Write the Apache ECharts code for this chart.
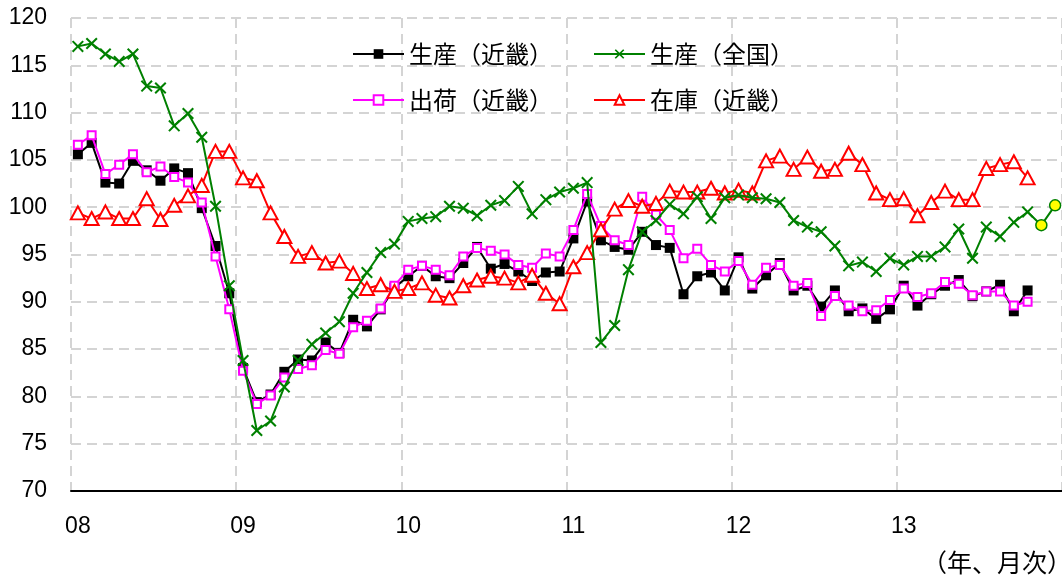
<!DOCTYPE html>
<html lang="ja">
<head>
    <meta charset="UTF-8">
    <title>近畿 鉱工業指数</title>
    <style>
        html,body{
            height: 100%;
        }
        body{
            margin: 0;
            padding: 0;
            background: #fff;
        }
        #chart_main{
            width: 1062px;
            height: 577px;
        }
    </style>
</head>
<body>
    <div id="chart_main"></div>
</body>
</html>
<script src="https://cdn.jsdelivr.net/npm/echarts@6/dist/echarts.min.js"></script>
<script>
    // 年ラベル（2008年1月〜2013年12月）
    var years = ['08', '09', '10', '11', '12', '13'];
    var months = [];
    years.forEach(function (y) {
        for (var m = 1; m <= 12; m++) months.push(y + '/' + m);
    });

    // 生産（近畿）
    var prodKinki = [
        105.6, 106.8, 102.6, 102.5, 104.9, 103.9, 102.8, 104.1, 103.6, 99.9, 95.9, 90.9,
        83.0, 79.4, 80.2, 82.6, 83.9, 83.8, 85.7, 84.6, 88.1, 87.4, 89.2, 91.5,
        92.7, 93.8, 92.7, 92.5, 94.1, 95.8, 93.5, 94.0, 93.2, 92.2, 93.1, 93.2,
        96.7, 100.6, 96.5, 95.8, 95.5, 97.4, 96.0, 95.7, 90.8, 92.7, 93.1, 91.2,
        94.7, 91.4, 92.8, 94.1, 91.2, 91.7, 89.5, 91.2, 89.0, 89.3, 88.2, 89.2,
        91.7, 89.6, 90.8, 91.7, 92.3, 90.6, 91.1, 91.8, 89.0, 91.2
    ];
    // 出荷（近畿）
    var shipKinki = [
        106.6, 107.6, 103.5, 104.5, 105.6, 103.7, 104.3, 103.2, 102.6, 100.5, 94.8, 89.2,
        82.7, 79.2, 80.1, 82.0, 82.9, 83.3, 84.9, 84.5, 87.3, 88.0, 89.3, 91.7,
        93.4, 93.8, 93.4, 92.8, 94.8, 95.7, 95.4, 95.0, 93.9, 93.6, 95.1, 94.8,
        97.6, 101.4, 98.0, 96.5, 96.0, 101.1, 99.2, 97.6, 94.6, 95.6, 93.9, 93.2,
        94.3, 91.8, 93.6, 93.9, 91.7, 92.0, 88.5, 90.6, 89.6, 89.0, 89.1, 90.2,
        91.4, 90.5, 90.9, 92.1, 91.9, 90.7, 91.1, 91.1, 89.6, 90.0
    ];
    // 生産（全国）
    var prodJapan = [
        117.0, 117.3, 116.2, 115.4, 116.2, 112.8, 112.6, 108.6, 109.9, 107.4, 100.1, 91.7,
        83.8, 76.4, 77.4, 81.0, 83.8, 85.5, 86.7, 87.9, 90.9, 93.1, 95.2, 96.1,
        98.5, 98.8, 99.0, 100.1, 99.9, 99.1, 100.2, 100.7, 102.2, 99.3, 100.8, 101.6,
        102.0, 102.6, 85.7, 87.5, 93.4, 97.4, 98.6, 100.3, 99.3, 101.1, 98.8, 101.0,
        101.3, 101.0, 100.9, 100.5, 98.6, 97.9, 97.4, 95.9, 93.8, 94.2, 93.2, 94.6,
        93.9, 94.8, 94.8, 95.8, 97.7, 94.6, 97.9, 96.9, 98.4, 99.5
    ];
    // 在庫（近畿）
    var stockKinki = [
        99.4, 98.8, 99.5, 98.8, 98.8, 100.9, 98.7, 100.2, 101.2, 102.3, 105.9, 105.9,
        103.1, 102.8, 99.4, 96.9, 94.8, 95.2, 94.1, 94.3, 93.0, 91.4, 91.8, 91.1,
        91.4, 92.0, 90.7, 90.4, 91.7, 92.3, 92.7, 92.5, 92.0, 92.8, 90.9, 89.8,
        93.7, 95.2, 97.6, 99.8, 100.7, 100.1, 100.4, 101.7, 101.6, 101.6, 102.0, 101.5,
        101.8, 101.5, 104.9, 105.4, 104.0, 105.3, 103.8, 104.0, 105.7, 104.5, 101.5, 100.8,
        100.9, 99.1, 100.5, 101.7, 100.8, 100.8, 104.1, 104.5, 104.8, 103.1
    ];
    // 生産（全国）予測値 2013年11月・12月
    var forecastJapan = [98.1, 100.2];

    var forecastData = prodJapan.map(function () { return null; });
    forecastData[forecastData.length - 1] = { value: prodJapan[prodJapan.length - 1], symbol: 'none' };
    forecastJapan.forEach(function (v) { forecastData.push(v); });

    var crossPath = 'path://M0,1.2L1.2,0L5,3.8L8.8,0L10,1.2L6.2,5L10,8.8L8.8,10L5,6.2L1.2,10L0,8.8L3.8,5Z';
    var jpFont = '"Noto Sans CJK JP", sans-serif';
    var numFont = '"Liberation Sans", sans-serif';

    var myChart = echarts.init(document.getElementById('chart_main'));

    var legendBase = {
        left: 347,
        itemWidth: 51,
        itemHeight: 12,
        itemGap: 40,
        textStyle: { fontFamily: jpFont, fontSize: 24, color: '#000' }
    };

    myChart.setOption({
        animation: false,
        grid: { left: 71, top: 18, width: 999, height: 473 },
        legend: [
            Object.assign({ top: 37, data: ['生産（近畿）', '生産（全国）'] }, legendBase),
            Object.assign({ top: 83, data: ['出荷（近畿）', '在庫（近畿）'] }, legendBase)
        ],
        graphic: [{
            type: 'text',
            left: 922,
            top: 550,
            style: { text: '（年、月次）', font: '25px ' + jpFont, fill: '#000' }
        }],
        xAxis: {
            type: 'category',
            data: months,
            boundaryGap: true,
            axisLine: { lineStyle: { color: '#000', width: 2 } },
            axisTick: { inside: true, length: 8, interval: 11, lineStyle: { color: '#000', width: 1.5 } },
            axisLabel: {
                interval: 11,
                margin: 24,
                fontFamily: numFont,
                fontSize: 23,
                color: '#000',
                formatter: function (v) { return v.split('/')[0]; }
            },
            splitLine: {
                show: true,
                interval: 11,
                lineStyle: { color: '#d4d4d4', width: 2, type: [10, 6] }
            }
        },
        yAxis: {
            type: 'value',
            min: 70,
            max: 120,
            interval: 5,
            axisLine: { show: false },
            axisTick: { show: false },
            axisLabel: { margin: 24, fontFamily: numFont, fontSize: 23, color: '#000' },
            splitLine: { lineStyle: { color: '#d4d4d4', width: 2, type: [10, 6] } }
        },
        series: [
            {
                name: '生産（近畿）',
                type: 'line',
                data: prodKinki,
                symbol: 'rect',
                symbolSize: 10,
                showAllSymbol: true,
                lineStyle: { color: '#000', width: 2 },
                itemStyle: { color: '#000', borderColor: '#000', borderWidth: 0 },
                z: 2
            },
            {
                name: '出荷（近畿）',
                type: 'line',
                data: shipKinki,
                symbol: 'rect',
                symbolSize: 8,
                showAllSymbol: true,
                lineStyle: { color: '#ff00ff', width: 2 },
                itemStyle: { color: '#fff', borderColor: '#ff00ff', borderWidth: 2 },
                z: 3
            },
            {
                name: '在庫（近畿）',
                type: 'line',
                data: stockKinki,
                symbol: 'triangle',
                symbolSize: [14, 13],
                showAllSymbol: true,
                lineStyle: { color: '#ff0000', width: 2 },
                itemStyle: { color: '#fff', borderColor: '#ff0000', borderWidth: 2 },
                z: 4
            },
            {
                name: '生産（全国）',
                type: 'line',
                data: prodJapan,
                symbol: crossPath,
                symbolSize: 12,
                showAllSymbol: true,
                lineStyle: { color: '#008000', width: 2 },
                itemStyle: { color: '#008000', borderWidth: 0 },
                z: 5
            },
            {
                name: '予測',
                type: 'line',
                data: forecastData,
                symbol: 'circle',
                symbolSize: 11,
                showAllSymbol: true,
                lineStyle: { color: '#008000', width: 2 },
                itemStyle: { color: '#ffff00', borderColor: '#008000', borderWidth: 1.5 },
                z: 6
            }
        ]
    });
</script>
